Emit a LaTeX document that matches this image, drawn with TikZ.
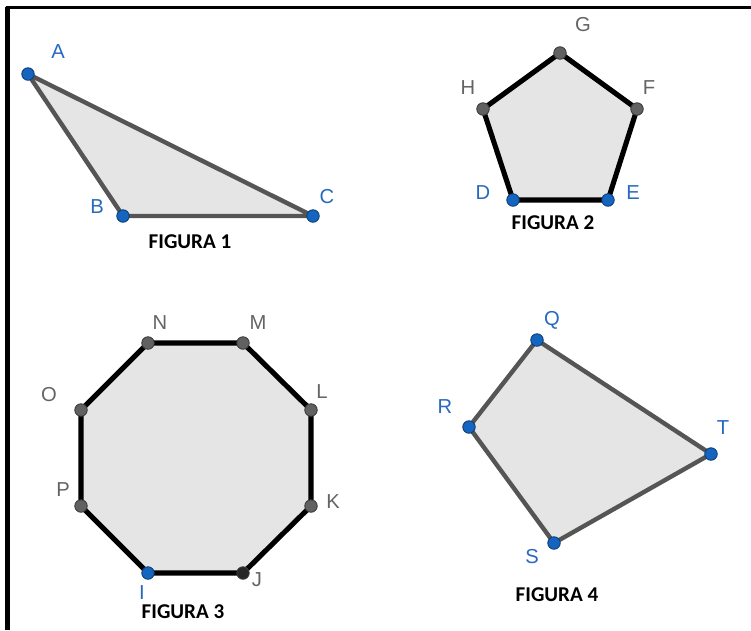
\documentclass[tikz,border=0pt]{standalone}
\usepackage{fontspec}
\setmainfont{Liberation Sans}
\newfontfamily\figfont{Carlito}
\definecolor{ggblue}{RGB}{21,101,192}
\definecolor{ggbluelbl}{RGB}{40,105,190}
\definecolor{ggdark}{RGB}{97,97,97}
\definecolor{gglbl}{RGB}{100,100,100}
\definecolor{ggedge}{RGB}{85,85,85}
\definecolor{ggfill}{RGB}{229,229,229}
\usetikzlibrary{positioning}
\tikzset{
  bpt/.style={circle,inner sep=0pt,minimum size=0.25cm,fill=ggblue,
              draw=ggblue!60!black,line width=0.5pt},
  gpt/.style={circle,inner sep=0pt,minimum size=0.25cm,fill=ggdark,
              draw=ggdark!60!black,line width=0.5pt},
  blbl/.style={text=ggbluelbl,font=\fontsize{11.5}{13}\selectfont,inner sep=1pt},
  glbl/.style={text=gglbl,font=\fontsize{11.5}{13}\selectfont,inner sep=1pt},
  figlbl/.style={font=\figfont\bfseries\fontsize{12}{14}\selectfont,inner sep=1pt},
}

\begin{document}
\begin{tikzpicture}[x=0.02cm,y=-0.02cm,
        soft/.style={fill=ggfill,draw=ggedge,line width=2.5pt,line join=round},
        hard/.style={fill=ggfill,draw=black,line width=2.9pt,line join=round},
      ]
        \useasboundingbox (0,0) rectangle (751,630);
        % ── Frame
        \draw[line width=2.1pt] (5.5,7.5) -- (751,7.5);
        \draw[line width=2.3pt] (7.5,6.5) -- (7.5,630);

        % ── Figura 1 : triangle
        \coordinate (A) at (28,74);
        \coordinate (B) at (123,216);
        \coordinate (C) at (313,216);
        \filldraw[soft] (A) -- (B) -- (C) -- cycle;
        \node[bpt] (pA) at (A) {};
        \node[bpt] (pB) at (B) {};
        \node[bpt] (pC) at (C) {};
        \node[blbl] (lA) at (58,52)  {A};
        \node[blbl] (lB) at (97,207) {B};
        \node[blbl] (lC) at (327,197) {C};
        \node[figlbl] (f1) at (190,242) {FIGURA 1};

        % ── Figura 2 : pentagon
        \coordinate (D) at (513,200);
        \coordinate (E) at (608,200);
        \coordinate (F) at (637,109);
        \coordinate (G) at (560,53);
        \coordinate (H) at (483,109);
        \filldraw[hard] (D) -- (E) -- (F) -- (G) -- (H) -- cycle;
        \node[bpt] (pD) at (D) {};
        \node[bpt] (pE) at (E) {};
        \node[gpt] (pF) at (F) {};
        \node[gpt] (pG) at (G) {};
        \node[gpt] (pH) at (H) {};
        \node[blbl] (lD) at (483,193) {D};
        \node[blbl] (lE) at (633,193) {E};
        \node[glbl] (lF) at (649,88)  {F};
        \node[glbl] (lG) at (583,25)  {G};
        \node[glbl] (lH) at (468,88)  {H};
        \node[figlbl] (f2) at (553,223) {FIGURA 2};

        % ── Figura 3 : octagon
        \coordinate (I) at (148,573);
        \coordinate (J) at (243,573);
        \coordinate (K) at (311,506);
        \coordinate (L) at (311,410);
        \coordinate (M) at (243,343);
        \coordinate (N) at (148,343);
        \coordinate (O) at (81,410);
        \coordinate (P) at (81,506);
        \filldraw[hard] (I) -- (J) -- (K) -- (L) -- (M) -- (N) -- (O) -- (P) -- cycle;
        \node[bpt] (pI) at (I) {};
        \node[gpt,fill=black!85] (pJ) at (J) {};
        \foreach \v in {K,L,M,N,O,P}
          \node[gpt] (p\v) at (\v) {};
        \node[blbl] (lI) at (142,593) {I};
        \node[glbl] (lJ) at (257,580) {J};
        \node[glbl] (lK) at (333,502) {K};
        \node[glbl] (lL) at (322,392) {L};
        \node[glbl] (lM) at (258,323) {M};
        \node[glbl] (lN) at (160,323) {N};
        \node[glbl] (lO) at (49,395)  {O};
        \node[glbl] (lP) at (63,490)  {P};
        \node[figlbl] (f3) at (183,612) {FIGURA 3};

        % ── Figura 4 : quadrilateral
        \coordinate (Q) at (537,340);
        \coordinate (R) at (469,427);
        \coordinate (S) at (554,543);
        \coordinate (T) at (711,454);
        \filldraw[soft] (Q) -- (R) -- (S) -- (T) -- cycle;
        \foreach \v in {Q,R,S,T}
          \node[bpt] (p\v) at (\v) {};
        \node[blbl] (lQ) at (552,320) {Q};
        \node[blbl] (lR) at (445,407) {R};
        \node[blbl] (lS) at (532,557) {S};
        \node[blbl] (lT) at (723,428) {T};
        \node[figlbl] (f4) at (557,595) {FIGURA 4};
      \end{tikzpicture}
\end{document}
